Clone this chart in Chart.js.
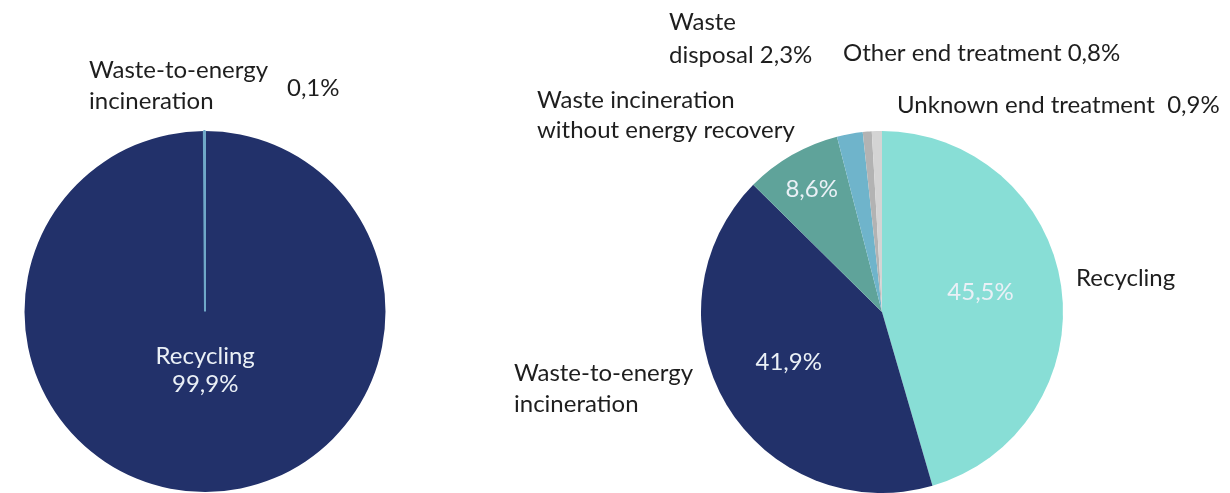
<!DOCTYPE html>
<html>
<head>
<meta charset="utf-8">
<script src="https://cdn.jsdelivr.net/npm/chart.js@4.4.0/dist/chart.umd.min.js"></script>
<style>
  html, body { margin: 0; padding: 0; background: #ffffff; }
  #wrap { position: relative; width: 1230px; height: 493px; overflow: hidden; }
  canvas { position: absolute; left: 0; top: 0; }
</style>
</head>
<body>
<div id="wrap">
  <canvas id="c1" width="1230" height="493"></canvas>
  <canvas id="c2" width="1230" height="493"></canvas>
</div>
<script>
// ---- Data ----
const leftCategories = ["Recycling", "Waste-to-energy incineration"];
const leftValues = [99.9, 0.1];
const leftLabels = ["99,9%", "0,1%"];

const rightCategories = ["Recycling", "Waste-to-energy incineration", "Waste incineration without energy recovery", "Waste disposal", "Other end treatment", "Unknown end treatment"];
const rightValues = [45.5, 41.9, 8.6, 2.3, 0.8, 0.9];
const rightLabels = ["45,5%", "41,9%", "8,6%", "2,3%", "0,8%", "0,9%"];

// ---- Styles ----
const leftColors = ["#22316a", "#6fa8c8"];
const leftBorders = [0, 2];
const rightColors = ["#88ded6", "#22316a", "#5fa39a", "#6fb4cb", "#b3b3b3", "#d4d4d4"];
const FONT = '24px Lato, "Source Sans Pro", "Noto Sans", sans-serif';
const DARK = "#1e1e1e";
const LIGHT = "#eaf0f6";

// Label layout: inside labels anchored on arcs (radius fraction), outside labels at page positions
const leftLayout = {
  inside: [{ r: 0.325, lines: ["Recycling", leftLabels[0]] }, null],
  outside: [
    { x: 89, y: 70, text: "Waste-to-energy" },
    { x: 89, y: 101, text: "incineration" },
    { x: 287, y: 88, text: leftLabels[1] }
  ]
};
const rightLayout = {
  inside: [
    { r: 0.55, lines: [rightLabels[0]], dy: -6 },
    { r: 0.6, lines: [rightLabels[1]], dy: -5 },
    { r: 0.78, lines: [rightLabels[2]] },
    null, null, null
  ],
  outside: [
    { x: 669, y: 22, text: "Waste" },
    { x: 669, y: 55, text: "disposal " + rightLabels[3] },
    { x: 843, y: 53, text: "Other end treatment " + rightLabels[4] },
    { x: 537, y: 100, text: "Waste incineration" },
    { x: 537, y: 130, text: "without energy recovery" },
    { x: 897, y: 105, text: "Unknown end treatment  " + rightLabels[5] },
    { x: 1076, y: 278, text: "Recycling" },
    { x: 514, y: 373, text: "Waste-to-energy" },
    { x: 514, y: 404, text: "incineration" }
  ]
};

function labelPlugin(layout) {
  return {
    id: 'pieLabels',
    afterDatasetsDraw(chart) {
      const ctx = chart.ctx;
      ctx.save();
      ctx.font = FONT;
      ctx.textBaseline = 'middle';
      const meta = chart.getDatasetMeta(0);
      meta.data.forEach((arc, i) => {
        const spec = layout.inside[i];
        if (!spec) return;
        const p = arc.getProps(['x', 'y', 'startAngle', 'endAngle', 'outerRadius'], true);
        const mid = (p.startAngle + p.endAngle) / 2;
        const r = p.outerRadius * spec.r;
        const cx = p.x + Math.cos(mid) * r;
        const cy = p.y + Math.sin(mid) * r + (spec.dy || 0);
        ctx.fillStyle = LIGHT;
        ctx.textAlign = 'center';
        const lh = 28;
        const n = spec.lines.length;
        spec.lines.forEach((t, k) => {
          ctx.fillText(t, cx, cy + (k - (n - 1) / 2) * lh);
        });
      });
      ctx.fillStyle = DARK;
      ctx.textAlign = 'left';
      layout.outside.forEach(o => ctx.fillText(o.text, o.x, o.y));
      ctx.restore();
    }
  };
}

function makePie(id, cats, vals, colors, borders, padding, layout) {
  return new Chart(document.getElementById(id), {
    type: 'pie',
    data: {
      labels: cats,
      datasets: [{
        data: vals,
        backgroundColor: colors,
        borderColor: colors,
        borderWidth: borders
      }]
    },
    options: {
      responsive: false,
      animation: false,
      layout: { padding: padding },
      plugins: { legend: { display: false }, tooltip: { enabled: false }, title: { display: false } },
      events: []
    },
    plugins: [labelPlugin(layout)]
  });
}

makePie('c1', leftCategories, leftValues, leftColors, leftBorders, { left: 23, right: 843, top: 130, bottom: 0 }, leftLayout);
makePie('c2', rightCategories, rightValues, rightColors, 0, { left: 700, right: 166, top: 131, bottom: 0 }, rightLayout);
</script>
</body>
</html>
